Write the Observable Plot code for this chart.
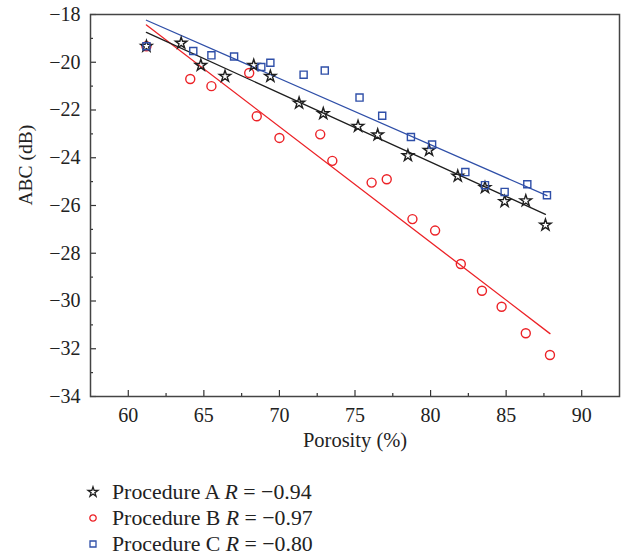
<!DOCTYPE html>
<html>
<head>
<meta charset="utf-8">
<script src="https://cdn.jsdelivr.net/npm/d3@7"></script>
<script src="https://cdn.jsdelivr.net/npm/@observablehq/plot@0.6"></script>
<style>
  body { margin: 0; background: #fff; font-family: "Liberation Serif", serif; }
  #legend { margin-left: 86px; margin-top: 9px; font-size: 21.8px; color: #222; }
  .row { display: flex; align-items: center; height: 26px; }
  .row svg { width: 14px; height: 14px; flex: none; }
  .row span { margin-left: 12px; white-space: nowrap; }
</style>
</head>
<body>
<div id="chart"></div>
<div id="legend"></div>
<script>
// Procedure A (stars)
const xA = [61.2, 63.5, 64.8, 66.4, 68.3, 69.4, 71.3, 72.9, 75.2, 76.5, 78.5, 79.9, 81.8, 83.6, 84.9, 86.3, 87.6];
const yA = [-19.33, -19.2, -20.13, -20.59, -20.13, -20.59, -21.71, -22.15, -22.68, -23.04, -23.91, -23.69, -24.77, -25.25, -25.83, -25.8, -26.82];
// Procedure B (circles)
const xB = [61.2, 64.1, 65.5, 68.0, 68.5, 70.0, 72.7, 73.5, 76.1, 77.1, 78.8, 80.3, 82.0, 83.4, 84.7, 86.3, 87.9];
const yB = [-19.33, -20.7, -21.0, -20.45, -22.26, -23.17, -23.02, -24.13, -25.04, -24.9, -26.57, -27.05, -28.45, -29.57, -30.24, -31.35, -32.26];
// Procedure C (squares)
const xC = [61.2, 64.3, 65.5, 67.0, 68.8, 69.4, 71.6, 73.0, 75.3, 76.8, 78.7, 80.1, 82.3, 83.6, 84.9, 86.4, 87.7];
const yC = [-19.33, -19.53, -19.71, -19.76, -20.2, -20.02, -20.52, -20.35, -21.48, -22.24, -23.13, -23.45, -24.6, -25.15, -25.43, -25.11, -25.57];

const seriesNames = ["Procedure A", "Procedure B", "Procedure C"];
const rValues = ["−0.94", "−0.97", "−0.80"];

const xMajor = [60, 65, 70, 75, 80, 85, 90];
const xMinor = [62.5, 67.5, 72.5, 77.5, 82.5, 87.5];
const yMajor = [-18, -20, -22, -24, -26, -28, -30, -32, -34];
const yMinor = [-19, -21, -23, -25, -27, -29, -31, -33];

const colors = { A: "#1e1e1e", B: "#ec2227", C: "#2f4fa8" };

const toRows = (xs, ys) => xs.map((x, i) => ({ x, y: ys[i] }));
const dA = toRows(xA, yA), dB = toRows(xB, yB), dC = toRows(xC, yC);

const W = 627, H = 470, mL = 90, mR = 8, mT = 14, mB = 74;
const innerW = W - mL - mR, innerH = H - mT - mB;
const fmt = d => (d < 0 ? "−" + Math.abs(d) : String(d));

const chart = Plot.plot({
  width: W, height: H,
  marginLeft: mL, marginRight: mR, marginTop: mT, marginBottom: mB,
  style: { fontFamily: "Liberation Serif, serif", fontSize: "20px", color: "#222", background: "#fff" },
  x: { domain: [57.5, 92.5] },
  y: { domain: [-34, -18] },
  marks: [
    Plot.axisX({ ticks: xMajor, tickSize: 0, tickPadding: 11, tickFormat: fmt, label: null }),
    Plot.axisY({ ticks: yMajor, tickSize: 0, tickPadding: 10, tickFormat: fmt, label: null }),
    Plot.tickX(xMajor, { x: d => d, insetTop: innerH - 6, stroke: "#333", strokeWidth: 1.2 }),
    Plot.tickX(xMinor, { x: d => d, insetTop: innerH - 3, stroke: "#333", strokeWidth: 1.2 }),
    Plot.tickY(yMajor, { y: d => d, insetRight: innerW - 6, stroke: "#333", strokeWidth: 1.2 }),
    Plot.tickY(yMinor, { y: d => d, insetRight: innerW - 3, stroke: "#333", strokeWidth: 1.2 }),
    Plot.linearRegressionY(dB, { x: "x", y: "y", stroke: colors.B, strokeWidth: 1.3, ci: 0 }),
    Plot.linearRegressionY(dA, { x: "x", y: "y", stroke: colors.A, strokeWidth: 1.3, ci: 0 }),
    Plot.linearRegressionY(dC, { x: "x", y: "y", stroke: colors.C, strokeWidth: 1.3, ci: 0 }),
    Plot.dot(dB, { x: "x", y: "y", symbol: "circle", r: 4.5, stroke: colors.B, strokeWidth: 1.4, fill: "none" }),
    Plot.dot(dA, { x: "x", y: "y", symbol: "star", r: 3.6, stroke: colors.A, strokeWidth: 1.4, fill: "none" }),
    Plot.dot(dC, { x: "x", y: "y", symbol: "square", r: 4, stroke: colors.C, strokeWidth: 1.4, fill: "none" }),
    Plot.frame({ stroke: "#444", strokeWidth: 1.5 }),
    Plot.text(["ABC (dB)"], { frameAnchor: "left", dx: -65, rotate: -90, fontSize: 19.5, fill: "#222" }),
    Plot.text(["Porosity (%)"], { frameAnchor: "bottom", dy: 50, fontSize: 20.5, fill: "#222" })
  ]
});
document.getElementById("chart").appendChild(chart);

// Legend
const legend = d3.select("#legend");
const legSymbols = [d3.symbolStar, d3.symbolCircle, d3.symbolSquare];
const legSizes = [30, 32, 36];
const legColors = [colors.A, colors.B, colors.C];
seriesNames.forEach((name, i) => {
  const row = legend.append("div").attr("class", "row");
  const svg = row.append("svg").attr("viewBox", "-7 -7 14 14");
  svg.append("path")
    .attr("d", d3.symbol(legSymbols[i], legSizes[i])())
    .attr("fill", "none")
    .attr("stroke", legColors[i])
    .attr("stroke-width", 1.3);
  const span = row.append("span");
  span.append("tspan").text(name + " ");
  span.append("i").text("R");
  span.append("tspan").text(" = " + rValues[i]);
});
</script>
</body>
</html>
